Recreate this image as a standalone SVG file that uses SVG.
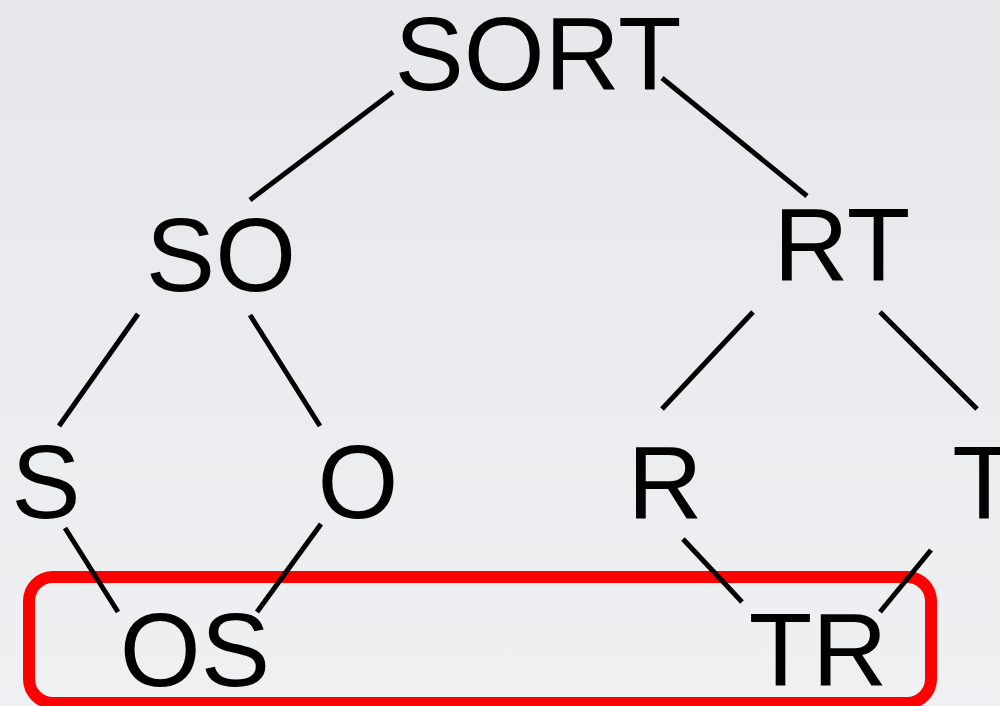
<svg xmlns="http://www.w3.org/2000/svg" width="1000" height="706" viewBox="0 0 1000 706">
  <defs>
    <linearGradient id="bg" x1="0" y1="0" x2="0" y2="1">
      <stop offset="0" stop-color="#e6e7eb"/>
      <stop offset="1" stop-color="#eff0f2"/>
    </linearGradient>
    <style>
      .lbl { font-family: "Liberation Sans", Arial, sans-serif; font-size: 104px; fill: #000; text-anchor: middle; }
      .edge { stroke: #000; stroke-width: 5; stroke-linecap: butt; fill: none; }
      .hl { fill: none; stroke: #ff0000; stroke-width: 12; }
    </style>
  </defs>
  <rect width="1000" height="706" fill="url(#bg)"/>

  <!-- highlight around the bottom row -->
  <rect class="hl" x="29" y="577" width="902" height="126" rx="24" ry="24"/>

  <g id="connectors">
    <line class="edge" x1="393" y1="92" x2="250" y2="200"/>
    <line class="edge" x1="662" y1="78" x2="807" y2="196"/>
    <line class="edge" x1="138" y1="314" x2="59" y2="426"/>
    <line class="edge" x1="250" y1="315" x2="320" y2="426"/>
    <line class="edge" x1="753" y1="312" x2="662" y2="409"/>
    <line class="edge" x1="880" y1="312" x2="977" y2="409"/>
    <line class="edge" x1="65" y1="528" x2="118" y2="612"/>
    <line class="edge" x1="321" y1="524" x2="257" y2="612"/>
    <line class="edge" x1="683" y1="539" x2="742" y2="602"/>
    <line class="edge" x1="931" y1="550" x2="880" y2="612"/>
  </g>

  <g id="node-sort"><text class="lbl" x="538" y="90">SORT</text></g>
  <g id="node-so"><text class="lbl" x="221" y="291">SO</text></g>
  <g id="node-rt"><text class="lbl" x="842" y="281">RT</text></g>
  <g id="node-s"><text class="lbl" x="46" y="518">S</text></g>
  <g id="node-o"><text class="lbl" x="358" y="518">O</text></g>
  <g id="node-r"><text class="lbl" x="665" y="519">R</text></g>
  <g id="node-t"><text class="lbl" x="984" y="519">T</text></g>
  <g id="node-os"><text class="lbl" x="195" y="686">OS</text></g>
  <g id="node-tr"><text class="lbl" x="818" y="686">TR</text></g>
</svg>
